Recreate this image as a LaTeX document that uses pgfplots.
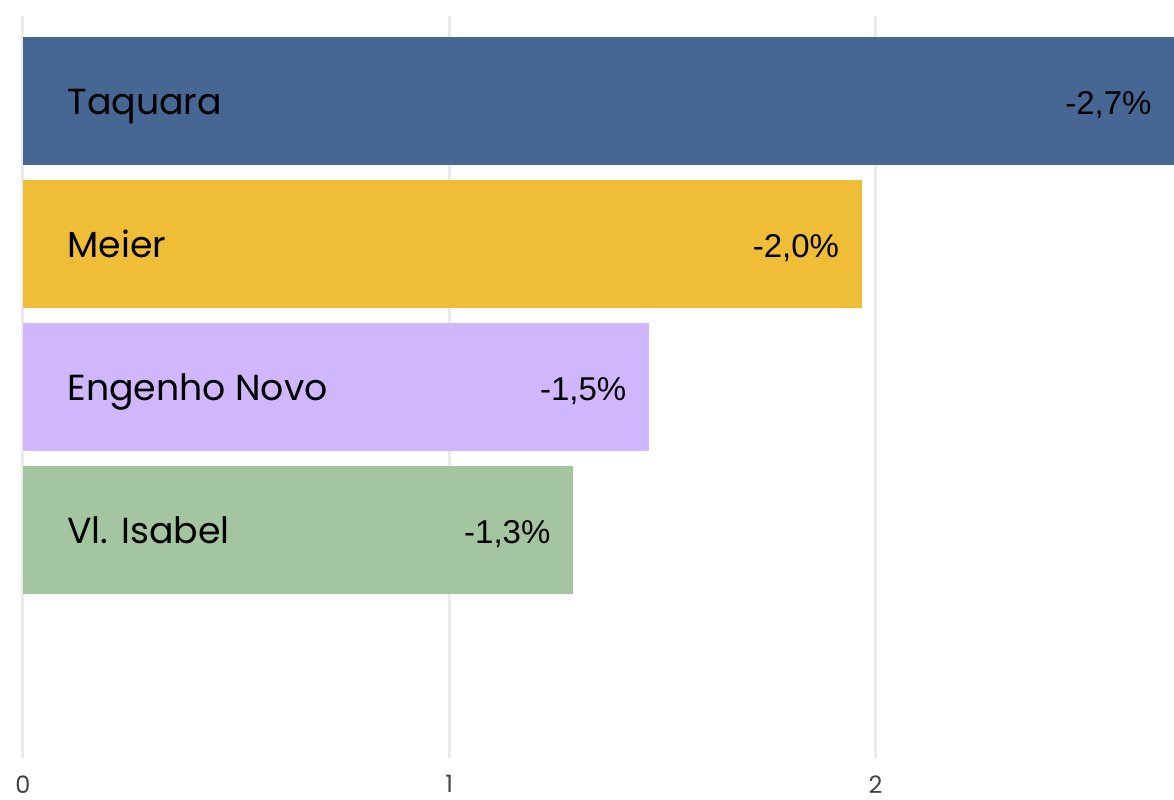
\documentclass[border=0pt]{standalone}
\usepackage{fontspec}
\setmainfont{Poppins}
\newfontfamily\valfont{Liberation Sans}
\usepackage{pgfplots}
\pgfplotsset{compat=1.18}

\definecolor{cTaq}{HTML}{466794}
\definecolor{cMei}{HTML}{F0BE36}
\definecolor{cEng}{HTML}{CFB6FD}
\definecolor{cIsa}{HTML}{A3C6A1}
\definecolor{gridc}{HTML}{EBEBEB}
\definecolor{tickc}{HTML}{444444}

\begin{document}
\begin{tikzpicture}
\begin{axis}[
    name=ax,
    scale only axis,
    width=460.4pt, height=296.8pt,
    xbar, bar width=51.2pt, bar shift=0pt,
    xmin=0, xmax=2.7,
    ymin=-0.594, ymax=4.594,
    enlargelimits=false,
    xtick={0,1,2}, ytick=\empty,
    xmajorgrids,
    major grid style={draw=gridc, line width=1.2pt},
    axis line style={draw=none},
    major tick length=0pt,
    /pgf/number format/assume math mode=true,
    xticklabel style={font=\fontsize{9.6}{11}\selectfont, text=tickc, yshift=-3.5pt},
    nodes near coords,
    point meta=explicit symbolic,
    every node near coord/.style={anchor=base east, inner sep=0pt, xshift=-8.8pt, yshift=-5.4pt,
        font=\valfont\fontsize{13.2}{16}\selectfont, text=black},
]
\addplot[draw=none, fill=cTaq] coordinates {(2.70,4) [-2,7\%]};
\addplot[draw=none, fill=cMei] coordinates {(1.967,3) [-2,0\%]};
\addplot[draw=none, fill=cEng] coordinates {(1.468,2) [-1,5\%]};
\addplot[draw=none, fill=cIsa] coordinates {(1.29,1) [-1,3\%]};

\begin{scope}[every node/.style={anchor=base west, yshift=-5.4pt,
    font=\fontsize{14.5}{17}\selectfont, inner sep=0pt}]
\node at (axis cs:0.103,4) {Taquara};
\node at (axis cs:0.103,3) {Meier};
\node at (axis cs:0.103,2) {Engenho Novo};
\node at (axis cs:0.103,1) {Vl. Isabel};
\end{scope}
\end{axis}
\pgfresetboundingbox
\path ([xshift=-9.2pt,yshift=-16.4pt]ax.south west) rectangle ([yshift=6.4pt]ax.north east);
\end{tikzpicture}
\end{document}
